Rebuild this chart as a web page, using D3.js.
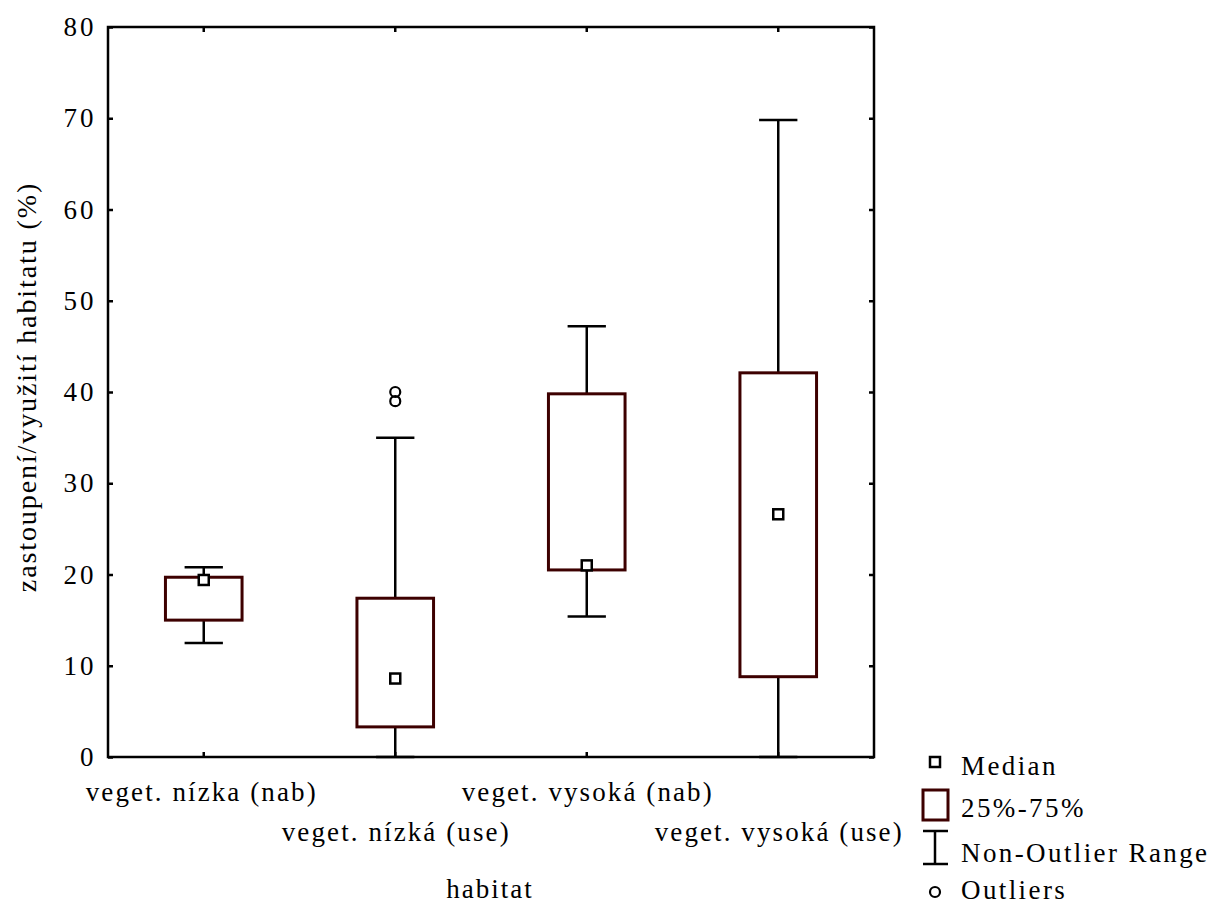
<!DOCTYPE html>
<html>
<head>
<meta charset="utf-8">
<script src="https://cdn.jsdelivr.net/npm/d3@7"></script>
<style>
  html, body { margin: 0; padding: 0; background: #fff; }
</style>
</head>
<body>
<svg id="chart" width="1215" height="905" style="font-family: 'Liberation Serif', 'Times New Roman', Times, serif;"></svg>
<script>
// Habitat categories and box-plot statistics (values in %)
const categories = ["veget. nízka (nab)", "veget. nízká (use)", "veget. vysoká (nab)", "veget. vysoká (use)"];
const whiskerLow  = [12.5, 0.0, 15.4, 0.0];
const q1          = [15.0, 3.3, 20.5, 8.8];
const median      = [19.4, 8.6, 21.0, 26.6];
const q3          = [19.7, 17.4, 39.8, 42.1];
const whiskerHigh = [20.8, 35.0, 47.2, 69.8];
const outliers    = [[], [39.0, 40.0], [], []];
const yTicks      = [0, 10, 20, 30, 40, 50, 60, 70, 80];
const legendLabels = ["Median", "25%-75%", "Non-Outlier Range", "Outliers"];

const FONT = "'Liberation Serif', 'Times New Roman', Times, serif";
const boxColor = "#3d0000";
const svg = d3.select("#chart");
const plot = { left: 108, right: 874, top: 27, bottom: 757 };

const x = d3.scaleBand().domain(categories).range([plot.left, plot.right]).padding(0);
const y = d3.scaleLinear().domain([0, 80]).range([plot.bottom, plot.top]);

const rows = categories.map((c, i) => ({
  cat: c, lo: whiskerLow[i], q1: q1[i], med: median[i], q3: q3[i], hi: whiskerHigh[i], out: outliers[i]
}));

function serif(sel, size, spacing) {
  sel.attr("font-family", FONT).style("font-family", FONT)
     .style("font-size", size + "px")
     .style("letter-spacing", spacing + "px")
     .attr("fill", "#000");
}

// Axes with inward ticks on all four sides
const tickLen = 5;
svg.append("g").attr("transform", `translate(${plot.left},0)`)
  .call(d3.axisLeft(y).tickValues(yTicks).tickSizeInner(-tickLen).tickSizeOuter(0).tickPadding(11.5))
  .call(g => g.attr("font-family", FONT))
  .call(g => g.select(".domain").remove())
  .call(g => g.selectAll("line").attr("stroke", "#000").attr("stroke-width", 2.5))
  .call(g => serif(g.selectAll("text"), 27, 3));

svg.append("g").attr("transform", `translate(${plot.right},0)`)
  .call(d3.axisRight(y).tickValues(yTicks).tickSizeInner(-tickLen).tickSizeOuter(0).tickFormat(""))
  .call(g => g.select(".domain").remove())
  .call(g => g.selectAll("line").attr("stroke", "#000").attr("stroke-width", 2.5));

svg.append("g").attr("transform", `translate(0,${plot.top})`)
  .call(d3.axisTop(x).tickSizeInner(-tickLen).tickSizeOuter(0).tickFormat(""))
  .call(g => g.select(".domain").remove())
  .call(g => g.selectAll("line").attr("stroke", "#000").attr("stroke-width", 2.5));

const xAxis = svg.append("g").attr("transform", `translate(0,${plot.bottom})`)
  .call(d3.axisBottom(x).tickSizeInner(-tickLen).tickSizeOuter(0).tickPadding(0))
  .call(g => g.attr("font-family", FONT))
  .call(g => g.select(".domain").remove())
  .call(g => g.selectAll("line").attr("stroke", "#000").attr("stroke-width", 2.5));
xAxis.selectAll("text")
  .call(s => serif(s, 27, 2.1))
  .attr("dy", null)
  .attr("y", (d, i) => i % 2 === 0 ? 44 : 84)
  .attr("x", (d, i) => i === 0 ? -2 : 1);

// Frame
svg.append("rect")
  .attr("x", plot.left).attr("y", plot.top)
  .attr("width", plot.right - plot.left).attr("height", plot.bottom - plot.top)
  .attr("fill", "none").attr("stroke", "#000").attr("stroke-width", 2.5);

// Boxes
const bw = x.bandwidth();
const g = svg.append("g");
const items = g.selectAll("g.item").data(rows).join("g").attr("class", "item")
  .attr("transform", d => `translate(${x(d.cat) + bw / 2},0)`);

// whisker stems
items.append("line").attr("x1", 0).attr("x2", 0)
  .attr("y1", d => y(d.q3)).attr("y2", d => y(d.hi))
  .attr("stroke", "#000").attr("stroke-width", 2.5);
items.append("line").attr("x1", 0).attr("x2", 0)
  .attr("y1", d => y(d.q1)).attr("y2", d => y(d.lo))
  .attr("stroke", "#000").attr("stroke-width", 2.5);
// whisker caps
const capW = bw * 0.2;
["hi", "lo"].forEach(k => {
  items.append("line").attr("x1", -capW / 2).attr("x2", capW / 2)
    .attr("y1", d => y(d[k])).attr("y2", d => y(d[k]))
    .attr("stroke", "#000").attr("stroke-width", 2.5);
});
// interquartile box
const boxW = bw * 0.4;
items.append("rect")
  .attr("x", -boxW / 2).attr("width", boxW)
  .attr("y", d => y(d.q3)).attr("height", d => y(d.q1) - y(d.q3))
  .attr("fill", "#fff").attr("stroke", boxColor).attr("stroke-width", 3);
// median marker
const ms = 10;
items.append("rect")
  .attr("x", -ms / 2).attr("width", ms)
  .attr("y", d => y(d.med) - ms / 2).attr("height", ms)
  .attr("fill", "#fff").attr("stroke", "#000").attr("stroke-width", 2.5);
// outliers
items.selectAll("circle").data(d => d.out).join("circle")
  .attr("cx", 0).attr("cy", v => y(v)).attr("r", 5)
  .attr("fill", "none").attr("stroke", "#000").attr("stroke-width", 2.2);

// Axis titles
svg.append("text")
  .attr("x", 490).attr("y", 898)
  .attr("text-anchor", "middle").call(s => serif(s, 27, 2))
  .text("habitat");
svg.append("text")
  .attr("transform", `translate(36,387) rotate(-90)`)
  .attr("text-anchor", "middle").call(s => serif(s, 28, 1.9))
  .text("zastoupení/využití habitatu (%)");

// Legend
const lg = svg.append("g").attr("transform", "translate(935,0)");
const legendY = [775, 817, 862, 899];
lg.selectAll("text").data(legendLabels).join("text")
  .attr("x", 26).attr("y", (d, i) => legendY[i])
  .call(s => serif(s, 27, 2.4)).text(d => d);
lg.append("rect").attr("x", -5).attr("y", 757).attr("width", 10).attr("height", 10)
  .attr("fill", "#fff").attr("stroke", "#000").attr("stroke-width", 2.5);
lg.append("rect").attr("x", -12).attr("y", 790).attr("width", 25).attr("height", 30)
  .attr("fill", "#fff").attr("stroke", boxColor).attr("stroke-width", 3);
lg.append("line").attr("x1", 0).attr("x2", 0).attr("y1", 831).attr("y2", 864)
  .attr("stroke", "#000").attr("stroke-width", 2.5);
lg.append("line").attr("x1", -12).attr("x2", 13).attr("y1", 831).attr("y2", 831)
  .attr("stroke", "#000").attr("stroke-width", 2.5);
lg.append("line").attr("x1", -12).attr("x2", 13).attr("y1", 864).attr("y2", 864)
  .attr("stroke", "#000").attr("stroke-width", 2.5);
lg.append("circle").attr("cx", 0).attr("cy", 892).attr("r", 5)
  .attr("fill", "none").attr("stroke", "#000").attr("stroke-width", 2.2);
</script>
</body>
</html>
